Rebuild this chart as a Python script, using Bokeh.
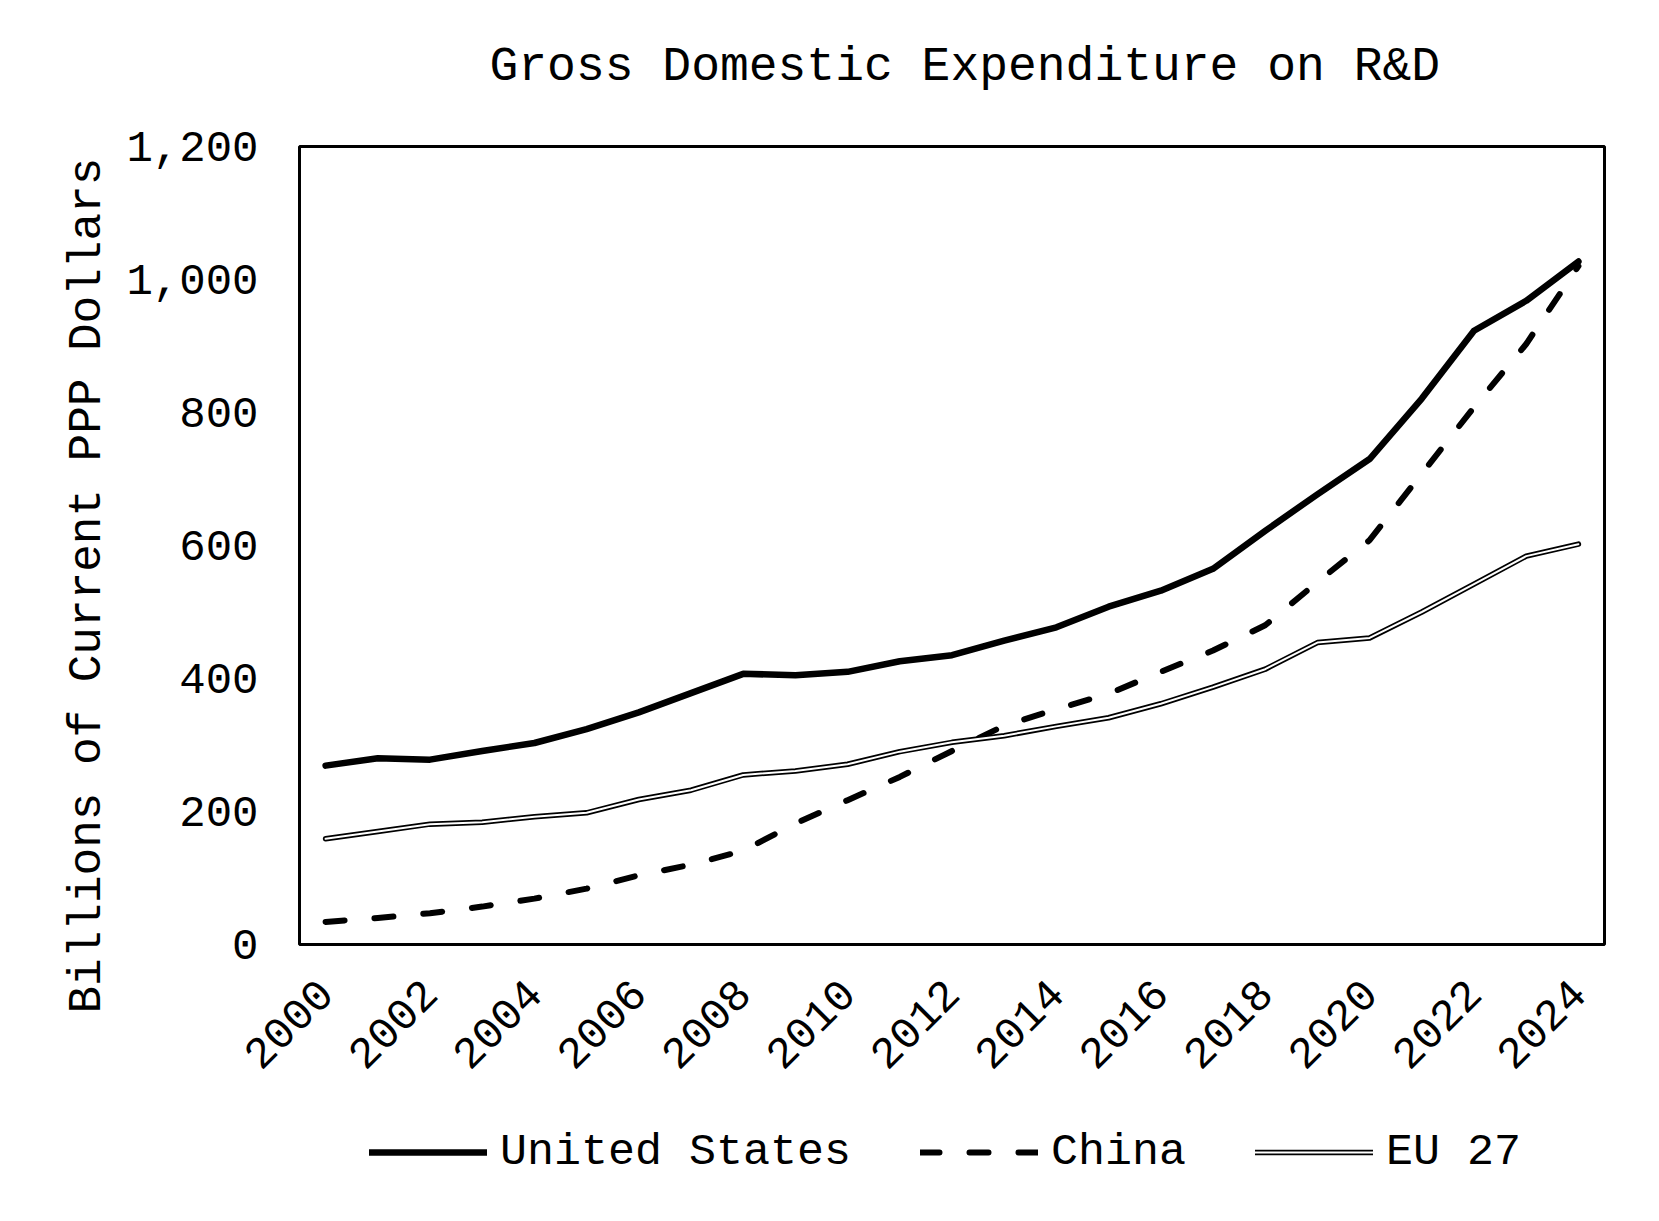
import math

from bokeh.plotting import figure
from bokeh.layouts import column
from bokeh.models import Range1d, FixedTicker, NumeralTickFormatter, Legend, LegendItem, Title
from bokeh.embed import file_html
from bokeh.resources import INLINE

# Gross domestic expenditure on R&D, billions of current PPP dollars
years = list(range(2000, 2025))
united_states = [269, 280, 278, 291, 303, 324, 349, 378, 407, 405, 410, 426, 435,
                 457, 477, 508, 532, 565, 622, 677, 730, 821, 923, 968, 1027]
china = [34, 40, 47, 57, 69, 84, 104, 120, 141, 182, 217, 252, 291,
         329, 354, 377, 410, 442, 480, 545, 608, 708, 808, 903, 1020]
eu27 = [159, 170, 181, 184, 192, 198, 218, 232, 255, 261, 271, 290, 304,
        314, 328, 341, 362, 387, 414, 454, 461, 500, 542, 584, 602]

series_names = ["United States", "China", "EU 27"]
x_ticks = list(range(2000, 2025, 2))
y_ticks = [0, 200, 400, 600, 800, 1000, 1200]

FONT = "Liberation Mono"

US_STYLE = dict(line_color="black", line_width=6.5, line_join="round", line_cap="round")
CN_STYLE = dict(line_color="black", line_width=6, line_dash="19 30",
                line_join="round", line_cap="round")
EU_OUTER = dict(line_color="black", line_width=5.5, line_join="round", line_cap="round")
EU_INNER = dict(line_color="white", line_width=2, line_join="round", line_cap="round")

# ---- main chart ----
p = figure(
    frame_width=1305, frame_height=798,
    output_backend="svg", toolbar_location=None,
    x_range=Range1d(1999.5, 2024.5), y_range=Range1d(0, 1200),
    title="Gross Domestic Expenditure on R&D\n ",
    min_border_left=299, min_border_right=55,
    min_border_top=146, min_border_bottom=170,
)
p.background_fill_color = "white"
p.border_fill_color = "white"
p.outline_line_color = "black"
p.outline_line_width = 3
p.grid.visible = False

p.title.text_font = FONT
p.title.text_font_size = "48px"
p.title.text_font_style = "normal"
p.title.text_color = "black"
p.title.text_line_height = 0.98
p.title.align = "left"
p.title.offset = 190
p.title.standoff = 0

# vertical axis title
p.add_layout(Title(
    text="Billions of Current PPP Dollars", text_font=FONT, text_font_size="46px",
    text_font_style="normal", text_color="black", align="left", offset=-69, standoff=20,
), "left")

for ax in (p.xaxis[0], p.yaxis[0]):
    ax.axis_line_color = None
    ax.major_tick_line_color = None
    ax.minor_tick_line_color = None
    ax.major_tick_out = 0
    ax.major_tick_in = 0
    ax.minor_tick_out = 0
    ax.major_label_text_font = FONT
    ax.major_label_text_font_size = "44px"
    ax.major_label_text_color = "black"

p.xaxis.ticker = FixedTicker(ticks=x_ticks)
p.xaxis.major_label_orientation = math.pi / 4
p.xaxis.major_label_standoff = 42

p.yaxis.ticker = FixedTicker(ticks=y_ticks)
p.yaxis.formatter = NumeralTickFormatter(format="0,0")
p.yaxis.major_label_standoff = 41

p.line(years, united_states, **US_STYLE)
p.line(years, china, **CN_STYLE)
p.line(years, eu27, **EU_OUTER)
p.line(years, eu27, **EU_INNER)

# ---- legend strip under the chart ----
# The strip's own ranges leave the series out of view; only its legend shows.
LEGEND_H = 60
key = figure(
    width=1659, height=1221 - (146 + 798 + 170),
    output_backend="svg", toolbar_location=None,
    x_axis_type=None, y_axis_type=None,
    x_range=Range1d(0, 1), y_range=Range1d(0, 1),
    min_border=0,
)
key.outline_line_color = None
key.grid.visible = False
key.background_fill_color = "white"
key.border_fill_color = "white"

k_us = key.line(years, united_states, **US_STYLE)
k_cn = key.line(years, china, **CN_STYLE)
k_eu_out = key.line(years, eu27, **EU_OUTER)
k_eu_in = key.line(years, eu27, **EU_INNER)

legend = Legend(
    items=[
        LegendItem(label=series_names[0], renderers=[k_us]),
        LegendItem(label=series_names[1], renderers=[k_cn]),
        LegendItem(label=series_names[2], renderers=[k_eu_out, k_eu_in]),
    ],
    orientation="horizontal", location=(70, 39),
    label_text_font=FONT, label_text_font_size="45px", label_text_color="black",
    glyph_width=118, glyph_height=LEGEND_H, label_height=LEGEND_H,
    label_standoff=13, spacing=69, padding=0, margin=0,
    border_line_color=None, background_fill_alpha=0,
)
key.add_layout(legend)

page = column(p, key, spacing=0)
open("out.html", "w").write(file_html(page, INLINE))
